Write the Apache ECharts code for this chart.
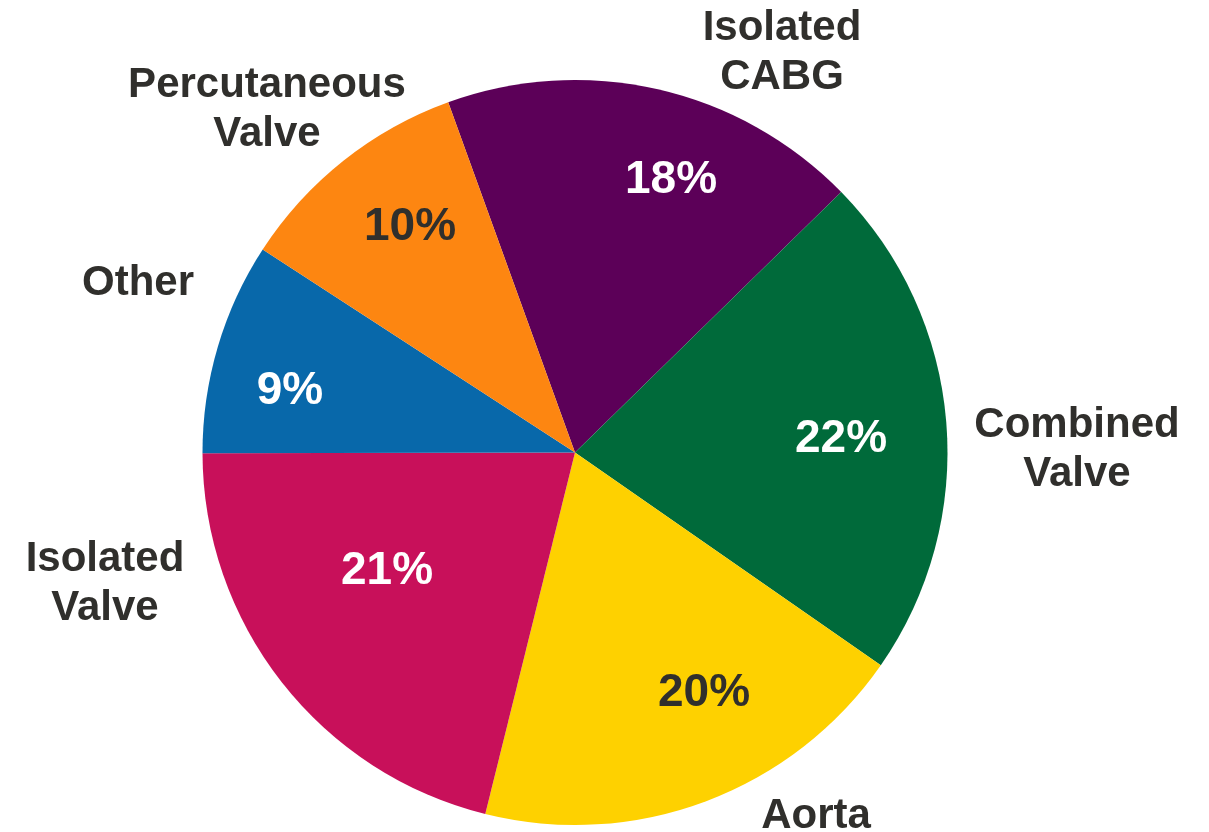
<!DOCTYPE html>
<html>
<head>
<meta charset="utf-8">
<title>Procedure mix</title>
<script src="https://cdn.jsdelivr.net/npm/echarts@6/dist/echarts.min.js"></script>
<style>
  html, body { margin: 0; padding: 0; background: #fff; }
  #chart { width: 1209px; height: 832px; }
</style>
</head>
<body>
<div id="chart"></div>
<script>
// categories, clockwise from the top-left edge of the purple slice
var categories = ['Isolated\nCABG', 'Combined\nValve', 'Aorta', 'Isolated\nValve', 'Other', 'Percutaneous\nValve'];
// slice sizes (percent of circle)
var shares = [18.2, 22.0, 19.2, 21.1, 9.2, 10.3];
// percentages printed on the slices
var printedPct = [18, 22, 20, 21, 9, 10];

var colors = ['#5c0058', '#006a3a', '#fed100', '#c8105a', '#0868aa', '#fd8611'];
var pctTextColors = ['#fff', '#fff', '#302f2c', '#fff', '#fff', '#302f2c'];

// label anchors (px), where the original chart put them
var pctLabelAt = [[671, 180], [841, 439], [704, 693], [387, 571], [290, 391], [410, 227]];
var nameLabelAt = [[782, 53], [1077, 450], [816, 816], [105, 584], [138, 283], [267, 110]];

var FONT = '"Liberation Sans", Arial, sans-serif';
var CENTER = [575, 452.5];
var RADIUS = 372.5;

var chart = echarts.init(document.getElementById('chart'));

var sliceData = categories.map(function (name, i) {
    return {
        name: name,
        value: shares[i],
        itemStyle: { color: colors[i] },
        label: { color: pctTextColors[i] }
    };
});

var nameData = categories.map(function (name, i) {
    return { name: name, value: shares[i] };
});

chart.setOption({
    animation: false,
    series: [{
        type: 'pie',
        center: CENTER,
        radius: [0, RADIUS],
        startAngle: 109.9,
        clockwise: true,
        silent: true,
        itemStyle: { borderWidth: 0 },
        label: {
            show: true,
            position: 'inside',
            fontFamily: FONT,
            fontWeight: 'bold',
            fontSize: 46,
            formatter: function (p) {
                return printedPct[p.dataIndex] + '%';
            }
        },
        labelLine: { show: false },
        labelLayout: function (p) {
            var at = pctLabelAt[p.dataIndex];
            return { x: at[0], y: at[1], align: 'center', verticalAlign: 'middle' };
        },
        data: sliceData
    }, {
        // same slices again, only to carry the category names outside the pie
        type: 'pie',
        center: CENTER,
        radius: [0, RADIUS],
        startAngle: 109.9,
        clockwise: true,
        silent: true,
        itemStyle: { color: 'rgba(0,0,0,0)', borderWidth: 0 },
        label: {
            show: true,
            position: 'inside',
            fontFamily: FONT,
            fontWeight: 'bold',
            fontSize: 42,
            lineHeight: 49,
            color: '#302f2c',
            align: 'center',
            formatter: '{b}'
        },
        labelLine: { show: false },
        labelLayout: function (p) {
            var at = nameLabelAt[p.dataIndex];
            return { x: at[0], y: at[1], align: 'center', verticalAlign: 'middle' };
        },
        data: nameData
    }]
});
</script>
</body>
</html>
